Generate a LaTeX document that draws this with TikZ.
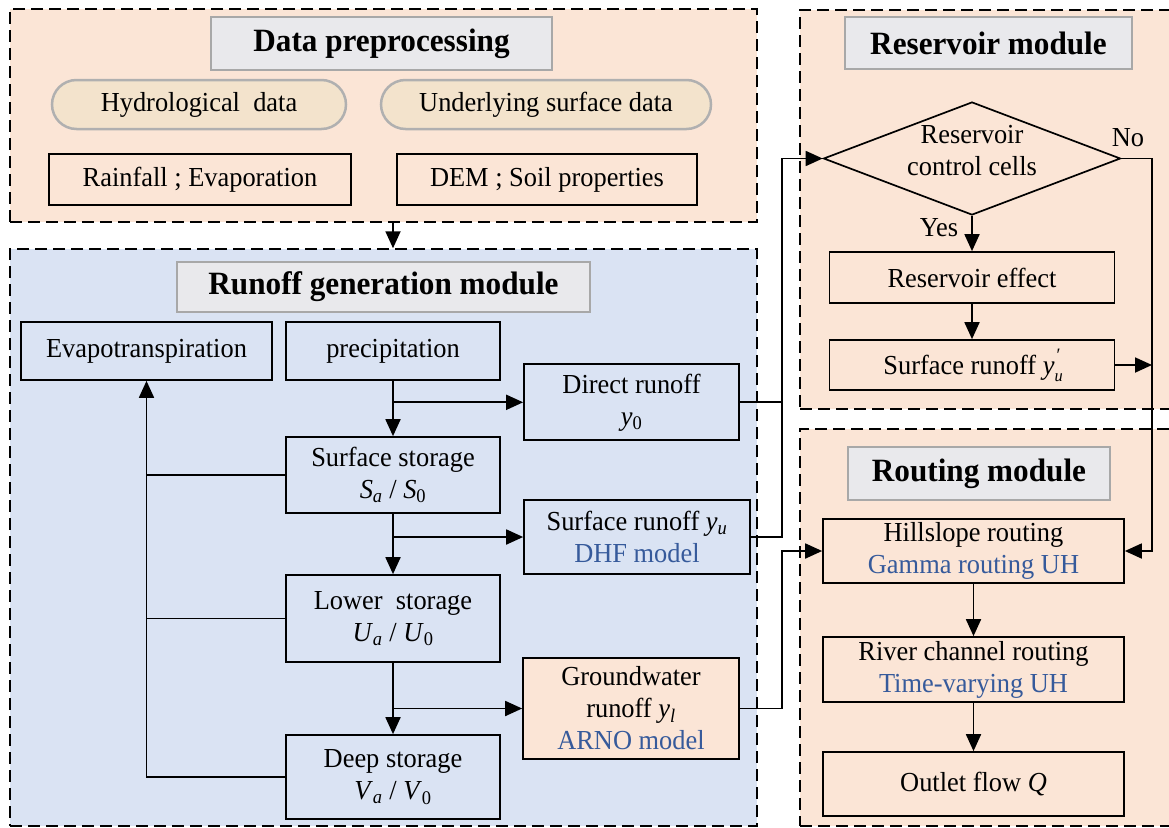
\documentclass[tikz,border=0pt]{standalone}
\usepackage{fontspec}
\setmainfont{Liberation Serif}[FakeStretch=0.96]
\usetikzlibrary{arrows.meta,shapes.geometric,shapes.misc}
\definecolor{peach}{HTML}{FBE5D6}
\definecolor{paleblue}{HTML}{DAE3F3}
\definecolor{titlefill}{HTML}{E9E9EC}
\definecolor{titleline}{HTML}{A8A8A8}
\definecolor{capsfill}{HTML}{F3E3CC}
\definecolor{capsline}{HTML}{B0B0B0}
\definecolor{modelblue}{HTML}{365A9B}
% italic variable with italic / upright subscript
\newcommand\ivar[2]{\textit{#1}\textsubscript{\textit{#2}}}
\newcommand\nvar[2]{\textit{#1}\textsubscript{#2}}
% y with subscript u and a prime above it
\newcommand\yuprime{\textit{y}\rlap{\raisebox{-0.5ex}{\fontsize{17}{17}\selectfont\textit{u}}}\kern2pt\raisebox{1.1ex}{\fontsize{19}{19}\selectfont ′}}
\begin{document}
\begin{tikzpicture}[x=1pt,y=-1pt,
  font=\fontsize{27.5}{32}\selectfont,
  sz/.style 2 args={minimum width=#1pt, minimum height=#2pt},
  panel/.style={draw, line width=1.5pt, dash pattern=on 12pt off 6pt, inner sep=0pt},
  titlebox/.style={draw=titleline, fill=titlefill, line width=2.5pt,
    font=\fontsize{32.5}{36}\selectfont\bfseries, inner sep=0pt},
  capsule/.style={rounded rectangle, draw=capsline, fill=capsfill, line width=2.5pt, inner sep=0pt},
  box/.style={draw, line width=1.7pt, inner sep=0pt, align=center},
  diam/.style={diamond, draw, line width=1.7pt, inner sep=0pt},
  link/.style={line width=1.8pt},
  arr/.style={link, -{Triangle[length=17pt,width=15pt]}},
  lbl/.style={inner sep=0pt}
]
\useasboundingbox (0,0) rectangle (1169,827);
\clip (0,0) rectangle (1169,827);
\fill[white] (0,0) rectangle (1169,827);

% module panels
\node[panel, fill=peach,    sz={747}{213}] (dpanel)    at (383.5,115.5) {};
\node[panel, fill=paleblue, sz={747}{577}] (rpanel)    at (383.5,537.5) {};
\node[panel, fill=peach,    sz={400}{399}] (respanel)  at (1000,209.5) {};
\node[panel, fill=peach,    sz={400}{397}] (routpanel) at (1000,627.5) {};

% panel titles
\node[titlebox, sz={341}{53}] (t1) at (381.5,43.5) {Data preprocessing};
\node[titlebox, sz={413}{50}] (t2) at (383.5,287) {Runoff generation module};
\node[titlebox, sz={287}{52}] (t3) at (988.5,43) {Reservoir module};
\node[titlebox, sz={262}{53}] (t4) at (979,473.5) {Routing module};

% data preprocessing
\node[capsule, sz={294}{49}] (hyd) at (199,104.5) {Hydrological~ data};
\node[capsule, sz={330}{49}] (und) at (546,104.5) {Underlying surface data};
\node[box, fill=peach, sz={302}{51}] (rain) at (200,179.5) {Rainfall ; Evaporation};
\node[box, fill=peach, sz={300}{51}] (dem)  at (547,179.5) {DEM ; Soil properties};

% runoff generation
\node[box, fill=paleblue, sz={251}{58}] (evap)     at (146.5,351) {Evapotranspiration};
\node[box, fill=paleblue, sz={214}{58}] (precip)   at (393,351) {precipitation};
\node[box, fill=paleblue, sz={215}{76}] (direct)   at (631.5,402.3) {Direct runoff\\\nvar{y}{0}};
\node[box, fill=paleblue, sz={214}{76}] (surfstor) at (393,475) {Surface storage\\\ivar{S}{a} / \nvar{S}{0}};
\node[box, fill=paleblue, sz={226}{74}] (surfrun)  at (637,537) {Surface runoff \ivar{y}{u}\\{\color{modelblue}DHF model}};
\node[box, fill=paleblue, sz={214}{87}] (lowstor)  at (393,618.5) {Lower~ storage\\\ivar{U}{a} / \nvar{U}{0}};
\node[box, fill=peach,    sz={216}{101}] (gw)      at (631,708.5) {Groundwater\\runoff \ivar{y}{l}\\{\color{modelblue}ARNO model}};
\node[box, fill=paleblue, sz={214}{84}] (deep)     at (393,777) {Deep storage\\\ivar{V}{a} / \nvar{V}{0}};

\draw[arr] (dpanel.south -| precip.south) -- (rpanel.north -| precip.south);

\draw[arr] (precip) -- (surfstor);
\draw[arr] (precip.south |- direct.west) -- (direct.west);
\draw[arr] (surfstor) -- (lowstor);
\draw[arr] (surfstor.south |- surfrun.west) -- (surfrun.west);
\draw[arr] (lowstor) -- (deep);
\draw[arr] (lowstor.south |- gw.west) -- (gw.west);
\draw[arr] (deep.west) -| (evap.south);
\draw[link] (surfstor.west) -- (surfstor.west -| evap.south);
\draw[link] (lowstor.west) -- (lowstor.west -| evap.south);

% reservoir module
\node[diam, sz={297}{113}] (dia) at (972,158.5) {};
\node[lbl, align=center] (diatext) at (972,151) {Reservoir\\control cells};
\node[box, fill=peach, sz={285}{51}] (reff) at (972,277.5) {Reservoir effect};
\node[box, fill=peach, sz={285}{50}] (srp)  at (972,365) {Surface runoff \yuprime};
\node[lbl] (yes) at (939,228) {Yes};
\node[lbl] (no)  at (1128,138) {No};

\draw[arr] (dia) -- (reff);
\draw[arr] (reff) -- (srp);

% routing module
\node[box, fill=peach, sz={301}{64}] (hill)   at (973.5,551) {Hillslope routing\\{\color{modelblue}Gamma routing UH}};
\node[box, fill=peach, sz={301}{65}] (river)  at (973.5,669.5) {River channel routing\\{\color{modelblue}Time-varying UH}};
\node[box, fill=peach, sz={301}{64}] (outlet) at (973.5,784) {Outlet flow \textit{Q}};
\draw[arr] (hill) -- (river);
\draw[arr] (river) -- (outlet);

% links between modules
\coordinate (busL) at (782,0);
\coordinate (busR) at (1152,0);
\draw[arr] (direct.east) -- (direct.east -| busL) |- (dia.west);
\draw[link] (surfrun.east) -| (direct.east -| busL);
\draw[arr] (gw.east) -- (gw.east -| busL) |- (hill.west);
\draw[arr] (dia.east) -- (dia.east -| busR) |- (hill.east);
\draw[arr] (srp.east) -- (srp.east -| busR);
\end{tikzpicture}
\end{document}
